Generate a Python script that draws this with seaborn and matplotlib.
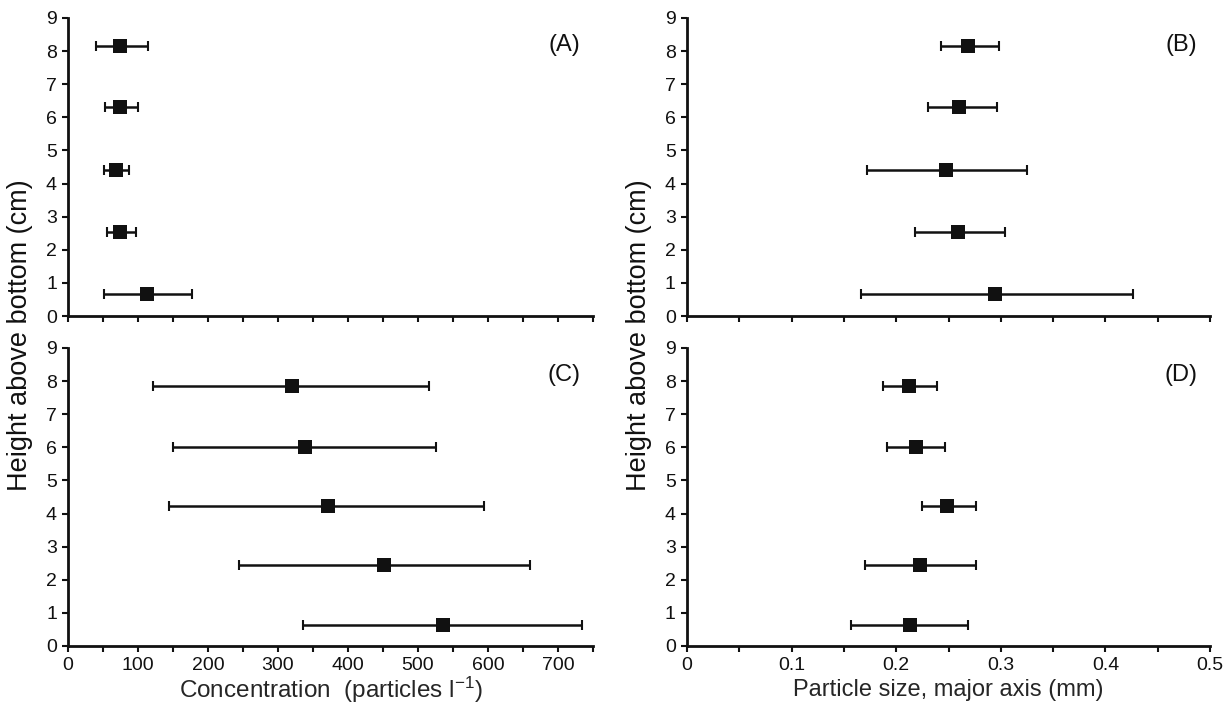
import numpy as np
import pandas as pd
import matplotlib
matplotlib.use('Agg')
import matplotlib.pyplot as plt
import seaborn as sns

# Heights above bottom (cm) for the upper and lower rows of panels
height_top = [8.16, 6.30, 4.40, 2.55, 0.65]
height_bot = [7.85, 6.02, 4.22, 2.46, 0.63]

# (A) concentration, particles per litre: mean, lower and upper end of bar
conc_a = [75, 75, 69, 75, 113]
conc_a_lo = [40, 53, 51, 56, 51]
conc_a_hi = [114, 100, 87, 97, 177]

# (C) concentration
conc_c = [320, 338, 371, 451, 535]
conc_c_lo = [121, 150, 145, 245, 335]
conc_c_hi = [515, 526, 594, 660, 734]

# (B) particle size, major axis (mm)
size_b = [0.269, 0.260, 0.248, 0.259, 0.294]
size_b_lo = [0.243, 0.230, 0.172, 0.218, 0.166]
size_b_hi = [0.298, 0.296, 0.325, 0.304, 0.426]

# (D) particle size
size_d = [0.212, 0.219, 0.249, 0.223, 0.213]
size_d_lo = [0.187, 0.191, 0.225, 0.170, 0.157]
size_d_hi = [0.239, 0.247, 0.276, 0.276, 0.269]

sns.set_style('ticks')
plt.rcParams['font.family'] = ['Liberation Sans', 'DejaVu Sans']
plt.rcParams['mathtext.fontset'] = 'custom'
plt.rcParams['mathtext.rm'] = 'Liberation Sans'
plt.rcParams['mathtext.it'] = 'Liberation Sans'

fig = plt.figure(figsize=(12.25, 7.13), dpi=100)

# panel rectangles (left, bottom, width, height) in figure fraction
rect_left_x, rect_right_x = 0.0555, 0.5608
w_left, w_right = 0.4286, 0.427
b_top, b_bot = 0.5568, 0.094
h = 0.418

panels = [
    ('(A)', [rect_left_x, b_top, w_left, h], conc_a, conc_a_lo, conc_a_hi, height_top, 'conc', False),
    ('(B)', [rect_right_x, b_top, w_right, h], size_b, size_b_lo, size_b_hi, height_top, 'size', False),
    ('(C)', [rect_left_x, b_bot, w_left, h], conc_c, conc_c_lo, conc_c_hi, height_bot, 'conc', True),
    ('(D)', [rect_right_x, b_bot, w_right, h], size_d, size_d_lo, size_d_hi, height_bot, 'size', True),
]

for tag, rect, mean, lo, hi, heights, kind, show_labels in panels:
    ax = fig.add_axes(rect)
    df = pd.DataFrame({'x': mean, 'lo': lo, 'hi': hi, 'y': heights})
    xerr = np.vstack([df['x'] - df['lo'], df['hi'] - df['x']])
    ax.errorbar(df['x'], df['y'], xerr=xerr, fmt='none', ecolor='#111111',
                elinewidth=1.8, capsize=3.5, capthick=1.5, zorder=2)
    sns.scatterplot(data=df, x='x', y='y', marker='s', s=95, color='#111111',
                    edgecolor='#111111', linewidth=0, ax=ax, zorder=3)

    ax.set_ylim(0, 9)
    ax.set_yticks(range(0, 10))
    if kind == 'conc':
        ax.set_xlim(0, 750)
        ax.set_xticks(np.arange(0, 751, 50))
        labels = [str(int(v)) if v % 100 == 0 else '' for v in np.arange(0, 751, 50)]
    else:
        ax.set_xlim(0, 0.5)
        ticks = np.round(np.arange(0, 0.501, 0.05), 2)
        ax.set_xticks(ticks)
        labels = [('0' if v == 0 else f'{v:.1f}') if round(v * 10, 6) % 1 == 0 else '' for v in ticks]
    if show_labels:
        ax.set_xticklabels(labels)
    else:
        ax.set_xticklabels([])

    ax.set_xlabel('')
    ax.set_ylabel('')
    sns.despine(ax=ax)
    for side in ['left', 'bottom']:
        ax.spines[side].set_linewidth(2.0)
        ax.spines[side].set_color('#111111')
    ax.tick_params(axis='both', length=4, width=1.5, color='#111111',
                   labelsize=14, pad=4, labelcolor='#111111')
    ax.text(0.945, 0.91, tag, transform=ax.transAxes, fontsize=17,
            ha='center', va='center', color='#111111')

    if tag in ('(C)', '(D)'):
        if tag == '(C)':
            ax.set_xlabel('Concentration  (particles l$^{-1}$)', fontsize=17.5)
        else:
            ax.set_xlabel('Particle size, major axis (mm)', fontsize=17)
        ax.xaxis.set_label_coords(0.5, -0.148)
        ax.xaxis.label.set_va('center')

fig.text(0.016, 0.53, 'Height above bottom (cm)', rotation=90, fontsize=19.5,
         ha='center', va='center', color='#111111')
fig.text(0.5215, 0.53, 'Height above bottom (cm)', rotation=90, fontsize=19.5,
         ha='center', va='center', color='#111111')

plt.savefig('out.png', dpi=100, facecolor='white')
